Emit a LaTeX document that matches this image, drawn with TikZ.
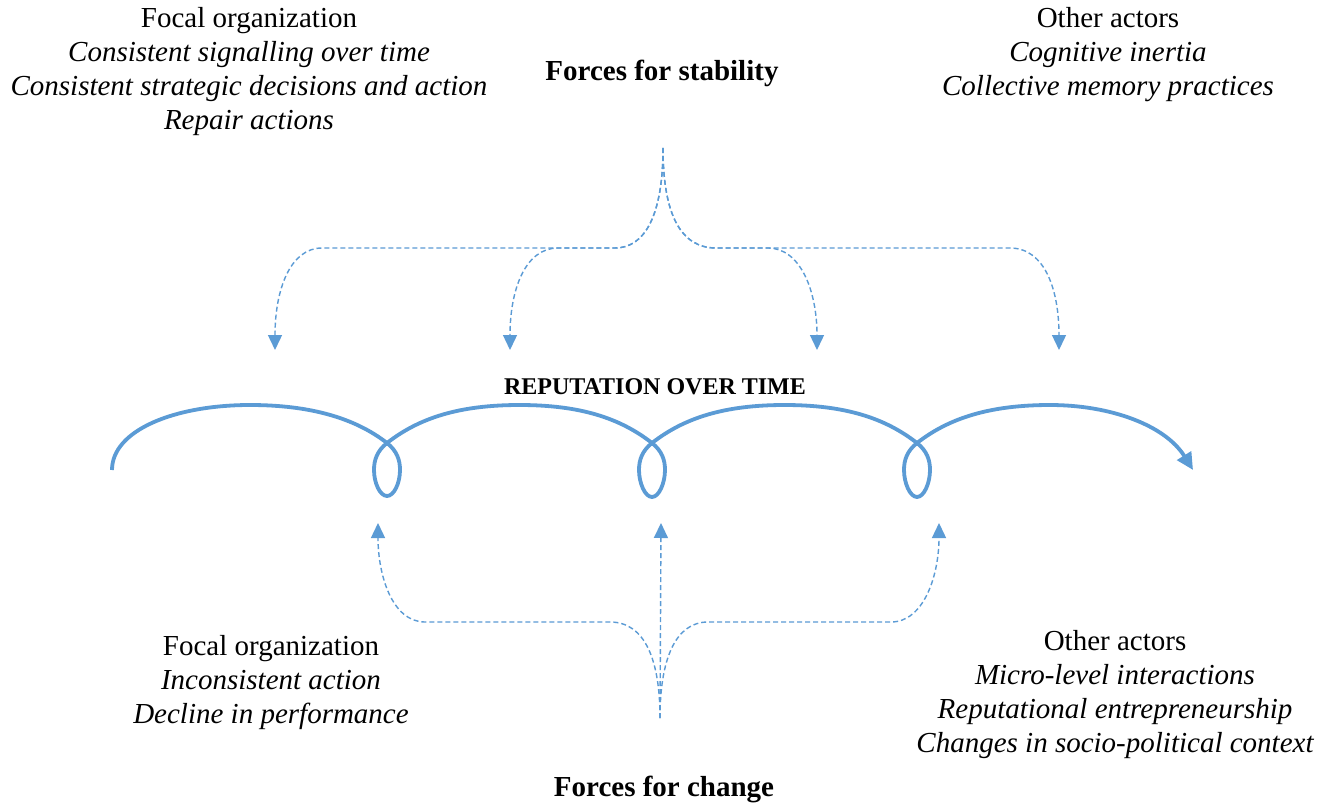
\documentclass[tikz,border=0pt]{standalone}
\usepackage{fontspec}
\setmainfont{Liberation Serif}
\usetikzlibrary{arrows.meta}
\definecolor{repblue}{HTML}{5B9BD5}
\tikzset{
  txt/.style={inner sep=0pt, font=\fontsize{29}{34}\selectfont},
  ttl/.style={inner sep=0pt, font=\fontsize{29}{34}\selectfont\bfseries, anchor=base},
  repcurve/.style={draw=repblue, line width=3.8pt, line cap=butt,
    -{Triangle[length=17pt,width=16pt]}},
  force/.style={draw=repblue, line width=1.4pt, dash pattern=on 5pt off 3pt,
    -{Triangle[length=15pt,width=14pt]}}
}
\begin{document}
\begin{tikzpicture}[x=1pt,y=-1pt]
\useasboundingbox (0,0) rectangle (1329,805);
\fill[white] (0,0) rectangle (1329,805);

% texts
\node[txt, anchor=north, align=center] (stabfocal) at (249,7.5)
  {Focal organization\\ \itshape Consistent signalling over time\\ \itshape Consistent strategic decisions and action\\ \itshape Repair actions};
\node[ttl] (stability) at (662,81) {Forces for stability};
\node[txt, anchor=north, align=center] (stabother) at (1108,7.5)
  {Other actors\\ \itshape Cognitive inertia\\ \itshape Collective memory practices};
\node[inner sep=0pt, anchor=base, font=\fontsize{24}{28}\selectfont\bfseries] (rep) at (655,394) {REPUTATION OVER TIME};
\node[txt, anchor=north, align=center] (chgfocal) at (271,635.5)
  {Focal organization\\ \itshape Inconsistent action\\ \itshape Decline in performance};
\node[txt, anchor=north, align=center] (chgother) at (1115,630.5)
  {Other actors\\ \itshape Micro-level interactions\\ \itshape Reputational entrepreneurship\\ \itshape Changes in socio-political context};
\node[ttl] (change) at (664,796) {Forces for change};

% reputation curve
\draw[repcurve] (112,470) .. controls (112,430) and (175,405) .. (250,405)
  .. controls (310,405) and (355,418) .. (387,443)
  .. controls (397,451) and (400,460) .. (400,470)
  .. controls (400,483) and (394,496) .. (387,496)
  .. controls (380,496) and (374,483) .. (374,470)
  .. controls (374,460) and (377,451) .. (387,443)
  .. controls (419,418) and (459,405) .. (519.5,405)
  .. controls (580,405) and (620,418) .. (652,443)
  .. controls (662,451) and (665,460) .. (665,470)
  .. controls (665,483) and (659,497) .. (652,497)
  .. controls (645,497) and (639,483) .. (639,470)
  .. controls (639,460) and (642,451) .. (652,443)
  .. controls (684,418) and (724,405) .. (784.5,405)
  .. controls (845,405) and (885,418) .. (917,443)
  .. controls (927,451) and (930,460) .. (930,470)
  .. controls (930,483) and (924,497) .. (917,497)
  .. controls (910,497) and (904,483) .. (904,470)
  .. controls (904,460) and (907,451) .. (917,443)
  .. controls (949,418) and (990,405) .. (1050,405)
  .. controls (1110,405) and (1165,425) .. (1193,470);

% forces for stability
\coordinate (stabcusp) at (663,148);
\coordinate (s1) at (275,350);
\coordinate (s2) at (510,350);
\coordinate (s3) at (817,350);
\coordinate (s4) at (1059,350);
\draw[force] (stabcusp) .. controls (663,215) and (645,248) .. (615,248) -- (322,248)
  .. controls (290,248) and (275,290) .. (s1);
\draw[force] (stabcusp) .. controls (663,215) and (645,248) .. (615,248) -- (558,248)
  .. controls (525,248) and (510,290) .. (s2);
\draw[force] (stabcusp) .. controls (663,215) and (681,248) .. (716,248) -- (768,248)
  .. controls (800,248) and (817,290) .. (s3);
\draw[force] (stabcusp) .. controls (663,215) and (681,248) .. (716,248) -- (1010,248)
  .. controls (1045,248) and (1059,290) .. (s4);

% forces for change
\coordinate (chgcusp) at (660,718);
\coordinate (c1) at (378,523);
\coordinate (c2) at (661,523);
\coordinate (c3) at (939,523);
\draw[force] (chgcusp) .. controls (660,660) and (645,622) .. (610,622) -- (425,622)
  .. controls (392,622) and (378,575) .. (c1);
\draw[force] (chgcusp) -- (c2);
\draw[force] (chgcusp) .. controls (660,660) and (675,622) .. (708,622) -- (891,622)
  .. controls (924,622) and (939,575) .. (c3);
\end{tikzpicture}
\end{document}
